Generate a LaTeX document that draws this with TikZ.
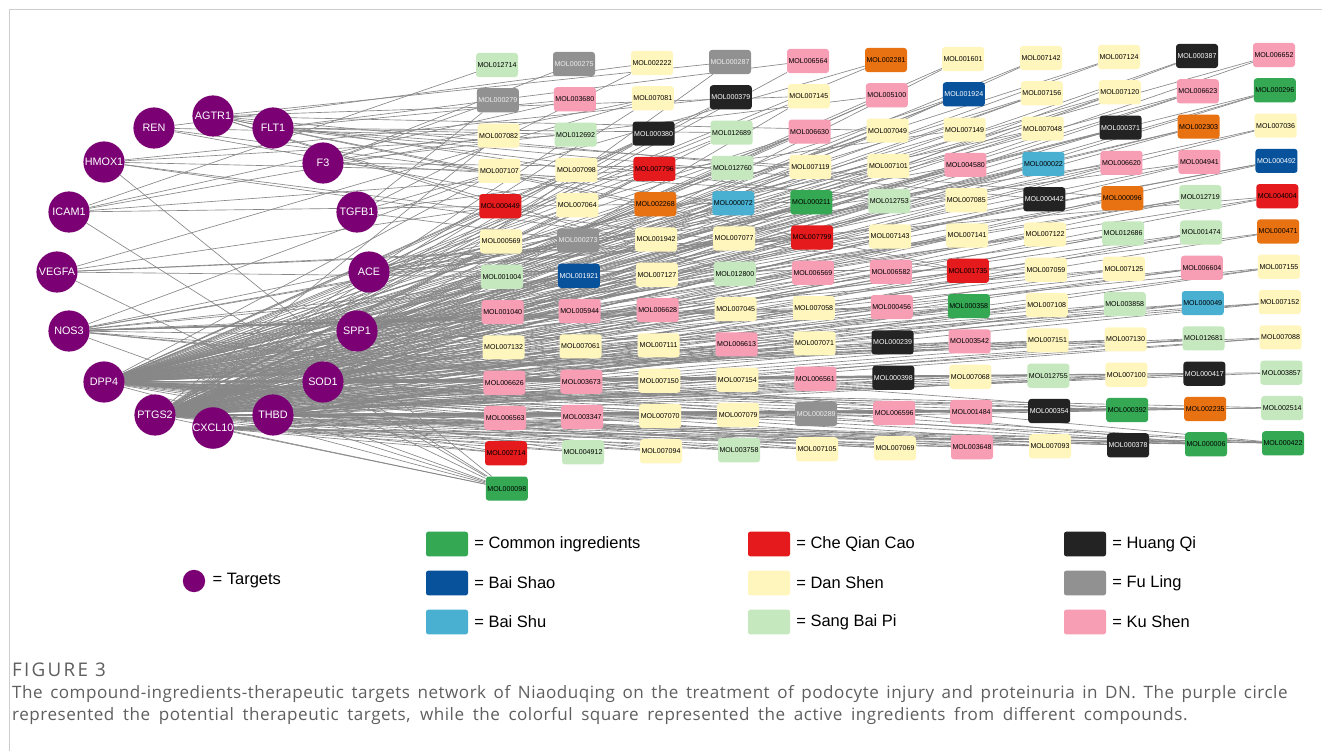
\documentclass[tikz,border=0pt]{standalone}
\usepackage{fontspec}
\setmainfont{Liberation Sans}
\newfontfamily\capfont{Open Sans}
\usetikzlibrary{positioning,backgrounds}

\definecolor{targetpurple}{RGB}{122,0,116}
\definecolor{commongreen}{RGB}{52,168,83}
\definecolor{cqcred}{RGB}{228,26,28}
\definecolor{hqblack}{RGB}{35,35,35}
\definecolor{bshaoblue}{RGB}{8,82,156}
\definecolor{dsyellow}{RGB}{255,246,190}
\definecolor{flgray}{RGB}{145,145,145}
\definecolor{bshucyan}{RGB}{73,176,210}
\definecolor{sbpgreen}{RGB}{198,232,190}
\definecolor{kspink}{RGB}{247,158,181}
\definecolor{extraorange}{RGB}{232,113,18}
\definecolor{edgegray}{RGB}{135,135,135}
\definecolor{capgray}{RGB}{95,95,95}
\definecolor{framegray}{RGB}{205,205,205}

\tikzset{
  target/.style={circle, fill=targetpurple, minimum size=35pt, inner sep=0pt,
    text=white, font=\fontsize{9.2}{10}\selectfont},
  mol/.style={rounded corners=2.5pt, minimum width=35.7pt, minimum height=20.5pt,
    inner sep=0pt, font=\fontsize{6}{6}\selectfont},
  commonbox/.style={mol, fill=commongreen},
  cqcbox/.style={mol, fill=cqcred},
  hqbox/.style={mol, fill=hqblack, text=white},
  bshaobox/.style={mol, fill=bshaoblue, text=white},
  dsbox/.style={mol, fill=dsyellow},
  flbox/.style={mol, fill=flgray, text=white!85!flgray},
  bshubox/.style={mol, fill=bshucyan},
  sbpbox/.style={mol, fill=sbpgreen},
  ksbox/.style={mol, fill=kspink},
  orbox/.style={mol, fill=extraorange},
  edge/.style={draw=edgegray, line width=0.55pt},
  legbox/.style={rounded corners=2pt, minimum width=35.7pt, minimum height=21pt, inner sep=0pt},
  legtext/.style={font=\fontsize{14}{16}\selectfont, inner sep=0pt},
  captext/.style={anchor=west, inner sep=0pt, text=capgray,
    font=\capfont\fontsize{14.5}{16}\selectfont\addfontfeatures{LetterSpace=3}},
}

% one column of ingredient boxes: x, y of the top box, list id/style/targets
\newcommand{\molcolumn}[3]{%
  \foreach \id/\sty/\tg [count=\rowi from 0] in {#3}{
    \node[\sty] (m\id) at ({#1+0.82*\rowi},{#2+35.3*\rowi}) {MOL\id};
    \begin{scope}[on background layer]
      \foreach \tgt in \tg {\draw[edge] (\tgt) -- (m\id);}
    \end{scope}
  }%
}

\begin{document}
\begin{tikzpicture}[x=0.85pt, y=-0.85pt]
  \useasboundingbox (0,0) rectangle (1322,751);
  \begin{scope}[on background layer]
    \fill[white] (0,0) rectangle (1322,751);
  \end{scope}
  \draw[framegray, line width=0.8pt] (9,751) -- (9,9) -- (1322,9);

  % targets
  \node[target] (AGTR1) at (213,116) {AGTR1};
  \node[target] (FLT1) at (273,128) {FLT1};
  \node[target] (F3) at (323,163) {F3};
  \node[target] (TGFB1) at (357,212) {TGFB1};
  \node[target] (ACE) at (369,272) {ACE};
  \node[target] (SPP1) at (357,331) {SPP1};
  \node[target] (SOD1) at (323,382) {SOD1};
  \node[target] (THBD) at (273,415) {THBD};
  \node[target] (CXCL10) at (213,428) {CXCL10};
  \node[target] (PTGS2) at (155,415) {PTGS2};
  \node[target] (DPP4) at (104,382) {DPP4};
  \node[target] (NOS3) at (69,331) {NOS3};
  \node[target] (VEGFA) at (57,272) {VEGFA};
  \node[target] (ICAM1) at (69,212) {ICAM1};
  \node[target] (HMOX1) at (104,162) {HMOX1};
  \node[target] (REN) at (154,128) {REN};

  % ingredients
  \molcolumn{497}{65}{012714/sbpbox/{ICAM1}, 000279/flbox/{TGFB1,F3},
    007082/dsbox/{REN,PTGS2,ICAM1}, 007107/dsbox/{HMOX1,DPP4,NOS3},
    000449/cqcbox/{AGTR1,PTGS2,DPP4,VEGFA}, 000569/dsbox/{NOS3,PTGS2,DPP4},
    001004/sbpbox/{VEGFA,DPP4,PTGS2}, 001040/ksbox/{PTGS2,DPP4,NOS3},
    007132/dsbox/{DPP4,SOD1,PTGS2}, 006626/ksbox/{PTGS2,THBD,DPP4},
    006563/ksbox/{DPP4,PTGS2,CXCL10}, 002714/cqcbox/{PTGS2,CXCL10,DPP4},
    000098/commonbox/{DPP4,PTGS2,THBD,CXCL10,SOD1,NOS3,VEGFA,ICAM1,HMOX1}}
  \molcolumn{574}{64}{000275/flbox/{F3}, 003680/ksbox/{FLT1,ICAM1},
    012692/sbpbox/{FLT1,PTGS2,HMOX1}, 007098/dsbox/{AGTR1,DPP4,PTGS2},
    007064/dsbox/{REN,PTGS2,DPP4}, 000273/flbox/{TGFB1,DPP4,NOS3},
    001921/bshaobox/{NOS3,PTGS2,DPP4}, 005944/ksbox/{PTGS2,DPP4,SOD1},
    007061/dsbox/{DPP4,PTGS2,THBD}, 003673/ksbox/{PTGS2,SOD1,DPP4},
    003347/ksbox/{THBD,DPP4,PTGS2}, 004912/sbpbox/{PTGS2,CXCL10,DPP4}}
  \molcolumn{652}{63}{002222/dsbox/{TGFB1,REN}, 007081/dsbox/{F3,PTGS2,VEGFA},
    000380/hqbox/{ACE,DPP4,PTGS2}, 007796/cqcbox/{SPP1,PTGS2,DPP4,ICAM1},
    002268/orbox/{AGTR1,PTGS2,DPP4}, 001942/dsbox/{HMOX1,DPP4,PTGS2},
    007127/dsbox/{DPP4,PTGS2,NOS3}, 006628/ksbox/{PTGS2,NOS3,DPP4},
    007111/dsbox/{DPP4,SOD1,PTGS2}, 007150/dsbox/{PTGS2,DPP4,THBD},
    007070/dsbox/{THBD,PTGS2,DPP4}, 007094/dsbox/{CXCL10,PTGS2,DPP4}}
  \molcolumn{730}{62}{000287/flbox/{SPP1,AGTR1}, 000379/hqbox/{ACE,PTGS2,HMOX1},
    012689/sbpbox/{FLT1,PTGS2,DPP4}, 012760/sbpbox/{F3,DPP4,PTGS2},
    000072/bshubox/{DPP4,PTGS2,REN}, 007077/dsbox/{DPP4,PTGS2,SPP1},
    012800/sbpbox/{AGTR1,DPP4,PTGS2}, 007045/dsbox/{PTGS2,DPP4,NOS3},
    006613/ksbox/{SOD1,PTGS2,DPP4}, 007154/dsbox/{DPP4,THBD,PTGS2},
    007079/dsbox/{PTGS2,DPP4,CXCL10}, 003758/sbpbox/{CXCL10,PTGS2,DPP4}}
  \molcolumn{808}{61}{006564/ksbox/{PTGS2,FLT1}, 007145/dsbox/{SOD1,DPP4,AGTR1},
    006630/ksbox/{ACE,PTGS2,DPP4}, 007119/dsbox/{FLT1,DPP4,PTGS2},
    000211/commonbox/{PTGS2,DPP4,NOS3,SPP1,ICAM1}, 007799/cqcbox/{PTGS2,VEGFA,DPP4,ACE},
    006569/ksbox/{PTGS2,DPP4,SOD1}, 007058/dsbox/{DPP4,PTGS2,NOS3},
    007071/dsbox/{PTGS2,THBD,DPP4}, 006561/ksbox/{DPP4,PTGS2,SOD1},
    000289/flbox/{PTGS2,THBD,DPP4}, 007105/dsbox/{CXCL10,DPP4,PTGS2}}
  \molcolumn{886}{60}{002281/orbox/{DPP4,TGFB1}, 005100/ksbox/{PTGS2,SPP1,F3},
    007049/dsbox/{AGTR1,PTGS2,DPP4}, 007101/dsbox/{DPP4,ACE,PTGS2},
    012753/sbpbox/{FLT1,PTGS2,DPP4}, 007143/dsbox/{DPP4,PTGS2,VEGFA},
    006582/ksbox/{PTGS2,SOD1,DPP4}, 000456/ksbox/{DPP4,PTGS2,NOS3},
    000239/hqbox/{PTGS2,NOS3,DPP4}, 000398/hqbox/{DPP4,THBD,PTGS2},
    006596/ksbox/{PTGS2,CXCL10,DPP4}, 007069/dsbox/{DPP4,PTGS2,THBD}}
  \molcolumn{963}{59}{001601/dsbox/{SOD1,PTGS2}, 001924/bshaobox/{PTGS2,SPP1,DPP4},
    007149/dsbox/{DPP4,TGFB1,PTGS2}, 004580/ksbox/{PTGS2,ACE,DPP4},
    007085/dsbox/{DPP4,F3,PTGS2}, 007141/dsbox/{PTGS2,DPP4,SPP1},
    001735/cqcbox/{PTGS2,AGTR1,DPP4,HMOX1}, 000358/commonbox/{PTGS2,DPP4,SOD1,THBD,NOS3},
    003542/ksbox/{PTGS2,DPP4,SOD1}, 007068/dsbox/{DPP4,PTGS2,THBD},
    001484/ksbox/{PTGS2,THBD,DPP4}, 003648/ksbox/{DPP4,CXCL10,PTGS2}}
  \molcolumn{1041}{58}{007142/dsbox/{PTGS2,SOD1}, 007156/dsbox/{DPP4,SPP1,PTGS2},
    007048/dsbox/{PTGS2,ACE,DPP4}, 000022/bshubox/{DPP4,SOD1,PTGS2},
    000442/hqbox/{PTGS2,FLT1,DPP4}, 007122/dsbox/{DPP4,PTGS2,SPP1},
    007059/dsbox/{PTGS2,DPP4,ACE}, 007108/dsbox/{DPP4,THBD,PTGS2},
    007151/dsbox/{PTGS2,DPP4,SOD1}, 012755/sbpbox/{PTGS2,SOD1,DPP4},
    000354/hqbox/{DPP4,PTGS2,THBD}, 007093/dsbox/{THBD,CXCL10,DPP4,PTGS2}}
  \molcolumn{1119}{57}{007124/dsbox/{DPP4,SPP1}, 007120/dsbox/{PTGS2,SOD1,DPP4},
    000371/hqbox/{PTGS2,SPP1,DPP4}, 006620/ksbox/{DPP4,ACE,PTGS2},
    000096/orbox/{PTGS2,AGTR1,DPP4}, 012686/sbpbox/{DPP4,PTGS2,SOD1},
    007125/dsbox/{PTGS2,DPP4,SPP1}, 003858/sbpbox/{DPP4,THBD,PTGS2},
    007130/dsbox/{PTGS2,DPP4,SOD1}, 007100/dsbox/{DPP4,CXCL10,PTGS2},
    000392/commonbox/{PTGS2,DPP4,THBD,SOD1,NOS3}, 000378/hqbox/{PTGS2,DPP4,THBD}}
  \molcolumn{1197}{56}{000387/hqbox/{PTGS2,SOD1}, 006623/ksbox/{DPP4,SOD1,PTGS2},
    002303/orbox/{PTGS2,SPP1,DPP4}, 004941/ksbox/{DPP4,ACE,PTGS2},
    012719/sbpbox/{PTGS2,DPP4,SPP1}, 001474/sbpbox/{PTGS2,THBD,DPP4},
    006604/ksbox/{DPP4,PTGS2,SOD1}, 000049/bshubox/{PTGS2,SOD1,DPP4},
    012681/sbpbox/{DPP4,THBD,PTGS2}, 000417/hqbox/{PTGS2,DPP4,THBD},
    002235/orbox/{PTGS2,CXCL10,DPP4}, 000006/commonbox/{PTGS2,DPP4,THBD,SOD1,CXCL10,NOS3}}
  \molcolumn{1274}{55}{006652/ksbox/{DPP4,SOD1}, 000296/commonbox/{PTGS2,SOD1,DPP4},
    007036/dsbox/{PTGS2,SPP1}, 000492/bshaobox/{DPP4,SPP1,PTGS2},
    004004/cqcbox/{PTGS2,ACE,DPP4}, 000471/orbox/{DPP4,PTGS2},
    007155/dsbox/{PTGS2,THBD,DPP4}, 007152/dsbox/{DPP4,PTGS2,SOD1},
    007088/dsbox/{PTGS2,DPP4,THBD}, 003857/sbpbox/{DPP4,PTGS2},
    002514/sbpbox/{PTGS2,THBD,DPP4}, 000422/commonbox/{PTGS2,DPP4,THBD,CXCL10,SOD1,NOS3}}

  % legend
  \node[circle, fill=targetpurple, minimum size=19pt, inner sep=0pt] (legtarget) at (194,581) {};
  \node[legtext, right=6pt of legtarget] (legtargettext) {= Targets};
  \node[legbox, fill=commongreen] (lcommon) at (447,544) {};
  \node[legtext, right=5pt of lcommon] (lcommontext) {= Common ingredients};
  \node[legbox, fill=bshaoblue] (lbshao) at (447,583) {};
  \node[legtext, right=5pt of lbshao] (lbshaotext) {= Bai Shao};
  \node[legbox, fill=bshucyan] (lbshu) at (447,622) {};
  \node[legtext, right=5pt of lbshu] (lbshutext) {= Bai Shu};
  \node[legbox, fill=cqcred] (lcqc) at (769,544) {};
  \node[legtext, right=5pt of lcqc] (lcqctext) {= Che Qian Cao};
  \node[legbox, fill=dsyellow] (lds) at (769,583) {};
  \node[legtext, right=5pt of lds] (ldstext) {= Dan Shen};
  \node[legbox, fill=sbpgreen] (lsbp) at (769,622) {};
  \node[legtext, right=5pt of lsbp] (lsbptext) {= Sang Bai Pi};
  \node[legbox, fill=hqblack] (lhq) at (1085,544) {};
  \node[legtext, right=5pt of lhq] (lhqtext) {= Huang Qi};
  \node[legbox, fill=flgray] (lfl) at (1085,583) {};
  \node[legtext, right=5pt of lfl] (lfltext) {= Fu Ling};
  \node[legbox, fill=kspink] (lks) at (1085,622) {};
  \node[legtext, right=5pt of lks] (lkstext) {= Ku Shen};

  % caption
  \node[anchor=west, inner sep=0pt, text=capgray, font=\capfont\fontsize{16}{17}\selectfont\addfontfeatures{LetterSpace=12}] (figlabel) at (12,670) {FIGURE 3};
  \node[captext] (capone) at (12,694) {\makebox[1084pt][s]{The compound-ingredients-therapeutic targets network of Niaoduqing on the treatment of podocyte injury and proteinuria in DN. The purple circle}};
  \node[captext] (captwo) at (12,716) {\makebox[999pt][s]{represented the potential therapeutic targets, while the colorful square represented the active ingredients from different compounds.}};
\end{tikzpicture}
\end{document}
